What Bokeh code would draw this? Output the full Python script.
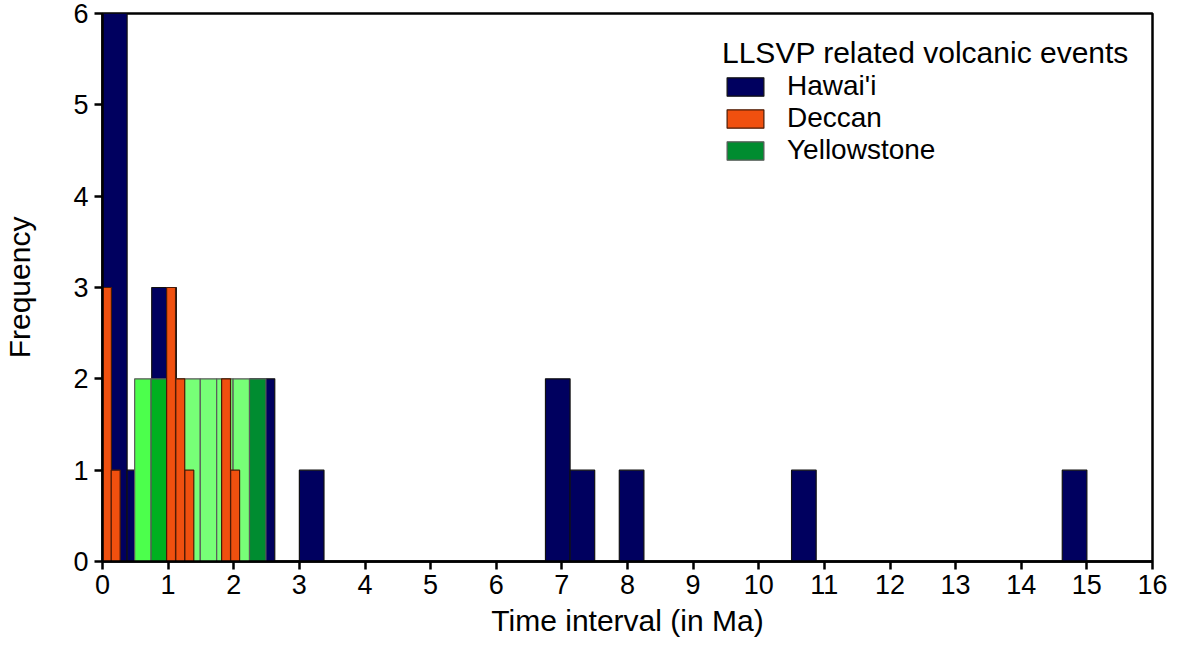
from bokeh.plotting import figure
from bokeh.models import Range1d, FixedTicker, Legend, LegendItem, ColumnDataSource
from bokeh.embed import file_html
from bokeh.resources import INLINE

# ---- data ----
# Hawai'i: bin width 0.375 Ma
hawaii_left = [0.0, 0.375, 0.75, 1.125, 2.25, 3.0, 6.75, 7.125, 7.875, 10.5, 14.625]
hawaii_count = [6, 1, 3, 1, 2, 1, 2, 1, 1, 1, 1]
hawaii_width = 0.375

# Deccan: narrow bins
deccan_left = [0.0, 0.133, 0.977, 1.117, 1.255, 1.815, 1.953]
deccan_count = [3, 1, 3, 2, 1, 2, 1]
deccan_width = 0.136

# Yellowstone: bin width 0.25 Ma
yellow_left = [0.49, 0.74, 0.99, 1.24, 1.49, 1.74, 1.99, 2.24]
yellow_count = [2, 2, 2, 2, 2, 2, 2, 2]
yellow_width = 0.25
yellow_colors = ["#4cff4c", "#00b020", "#77ff77", "#77ff77", "#77ff77",
                 "#77ff77", "#77ff77", "#008c30"]

x_ticks = list(range(0, 17))
y_ticks = [0, 1, 2, 3, 4, 5, 6]

FONT = "Liberation Sans"

p = figure(width=1180, height=652, x_range=Range1d(0, 16), y_range=Range1d(0, 6),
           output_backend="svg", toolbar_location=None,
           min_border_left=102, min_border_right=28, min_border_top=13,
           min_border_bottom=91)

src_h = ColumnDataSource(dict(left=hawaii_left,
                              right=[l + hawaii_width for l in hawaii_left],
                              top=hawaii_count))
src_y = ColumnDataSource(dict(left=yellow_left,
                              right=[l + yellow_width for l in yellow_left],
                              top=yellow_count, color=yellow_colors))
src_d = ColumnDataSource(dict(left=deccan_left,
                              right=[l + deccan_width for l in deccan_left],
                              top=deccan_count))

rh = p.quad(left="left", right="right", top="top", bottom=0, source=src_h,
            fill_color="#00005f", line_color="#111111", line_width=1.2)
ry = p.quad(left="left", right="right", top="top", bottom=0, source=src_y,
            fill_color="color", line_color="#5a5a5a", line_width=1.2)
rd = p.quad(left="left", right="right", top="top", bottom=0, source=src_d,
            fill_color="#f0500f", line_color="#4a1a05", line_width=1.2)

p.xgrid.visible = False
p.ygrid.visible = False
p.outline_line_color = "black"
p.outline_line_width = 2.5
p.outline_line_alpha = 1.0

for ax in (p.xaxis[0], p.yaxis[0]):
    ax.axis_line_width = 2.5
    ax.axis_line_color = "black"
    ax.major_tick_line_width = 2.5
    ax.major_tick_line_color = "black"
    ax.major_tick_out = 8
    ax.major_tick_in = 0
    ax.minor_tick_line_color = None
    ax.major_label_text_font = FONT
    ax.major_label_text_font_size = "27px"
    ax.major_label_text_color = "black"
    ax.axis_label_text_font = FONT
    ax.axis_label_text_font_size = "30px"
    ax.axis_label_text_font_style = "normal"
    ax.axis_label_text_color = "black"

p.xaxis.ticker = FixedTicker(ticks=x_ticks)
p.yaxis.ticker = FixedTicker(ticks=y_ticks)
p.xaxis.axis_label = "Time interval (in Ma)"
p.yaxis.axis_label = "Frequency"
p.xaxis.major_label_standoff = 5
p.yaxis.major_label_standoff = 6
p.xaxis.axis_label_standoff = 7
p.yaxis.axis_label_standoff = 34

legend = Legend(items=[
    LegendItem(label="Hawai'i", renderers=[rh], index=0),
    LegendItem(label="Deccan", renderers=[rd], index=0),
    LegendItem(label="Yellowstone", renderers=[ry], index=7),
], title="LLSVP related volcanic events", location=(620, 395),
    padding=0, margin=0, spacing=0, border_line_alpha=0,
    background_fill_alpha=0, glyph_width=46, glyph_height=23,
    label_standoff=19, label_text_font=FONT, label_text_font_size="28px",
    label_text_color="black", label_height=20,
    title_text_font=FONT, title_text_font_size="30px", title_text_color="black",
    title_text_font_style="normal", title_standoff=0)
p.add_layout(legend)

open("out.html", "w").write(file_html(p, INLINE))
